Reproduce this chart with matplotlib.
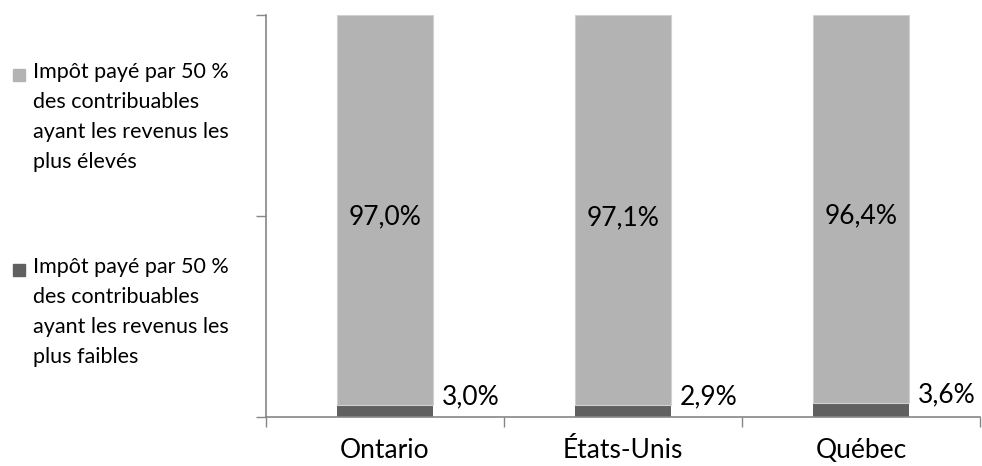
import matplotlib
matplotlib.use('Agg')
import matplotlib.pyplot as plt
from matplotlib.patches import Rectangle

plt.rcParams['font.family'] = ['Lato', 'DejaVu Sans']

# data
regions = ['Ontario', 'États-Unis', 'Québec']
low_half = [0.030, 0.029, 0.036]    # impôt payé par les 50 % aux revenus les plus faibles
high_half = [0.970, 0.971, 0.964]   # impôt payé par les 50 % aux revenus les plus élevés
low_labels = ['3,0%', '2,9%', '3,6%']
high_labels = ['97,0%', '97,1%', '96,4%']
legend_labels = ['Impôt payé par 50 %\ndes contribuables\nayant les revenus les\nplus élevés',
                 'Impôt payé par 50 %\ndes contribuables\nayant les revenus les\nplus faibles']

c_low = '#606060'
c_high = '#b3b3b3'
axis_col = '#868686'

fig = plt.figure(figsize=(9.82, 4.66), dpi=100)
ax = fig.add_axes([266/982, 49/466, 714/982, 402/466])

x = range(len(regions))
ax.bar(x, low_half, width=0.4, color=c_low)
ax.bar(x, high_half, width=0.4, bottom=low_half, color=c_high, edgecolor='#d0d0d0', linewidth=0.8)

for i in x:
    ax.text(i, low_half[i] + high_half[i] / 2 - 0.018, high_labels[i], ha='center', va='center', fontsize=19)
    ax.text(i + 0.36, low_half[i] + 0.02, low_labels[i], ha='center', va='center', fontsize=19)

ax.set_xlim(-0.5, 2.5)
ax.set_ylim(0, 1)
ax.set_yticks([0, 0.5, 1])
ax.set_yticklabels([])
ax.set_xticks([-0.5, 0.5, 1.5, 2.5])
ax.set_xticklabels([])
ax.set_xticks(list(x), minor=True)
ax.set_xticklabels(regions, minor=True, fontsize=19)
ax.tick_params(axis='x', which='minor', length=0, pad=15)
ax.tick_params(axis='both', which='major', length=7, color=axis_col, width=1)
for s in ['top', 'right']:
    ax.spines[s].set_visible(False)
for s in ['left', 'bottom']:
    ax.spines[s].set_color(axis_col)
    ax.spines[s].set_linewidth(1.2)

# legend drawn at the left
legend_cols = [c_high, c_low]
legend_top = [75, 270]
for lab, col, ytop in zip(legend_labels, legend_cols, legend_top):
    fig.patches.append(Rectangle((13/982, 1 - (ytop + 6)/466), 12/982, 12/466,
                                 transform=fig.transFigure, color=col))
    fig.text(33/982, 1 - (ytop - 13)/466, lab, ha='left', va='top', fontsize=15.5, linespacing=1.62)

fig.savefig('out.png', dpi=100)
